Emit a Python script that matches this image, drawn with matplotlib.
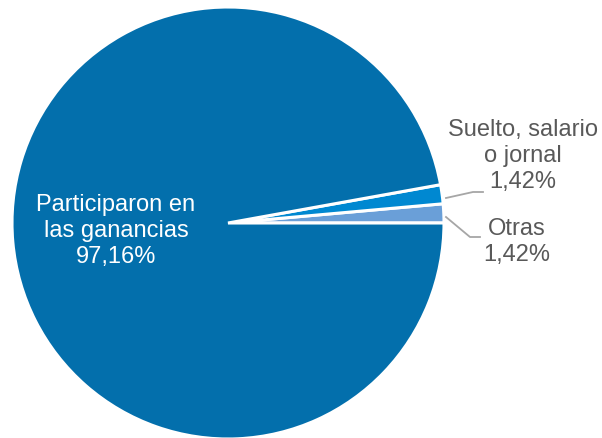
import matplotlib.pyplot as plt

plt.rcParams['font.family'] = ['Liberation Sans', 'DejaVu Sans']

# data, counterclockwise from 3 o'clock
labels = ['Otras', 'Suelto, salario\no jornal', 'Participaron en\nlas ganancias']
values = [1.42, 1.42, 97.16]
pct_text = ['1,42%', '1,42%', '97,16%']
colors = ['#6a9fd8', '#0088d1', '#036fac']

fig = plt.figure(figsize=(6.02, 4.39), dpi=100)
ax = fig.add_axes([0, 0, 1, 1])

cx, cy, r = 228, 215, 216
ax.pie(values, colors=colors, startangle=0, counterclock=True,
       center=(cx, cy), radius=r, frame=True,
       wedgeprops=dict(edgecolor='white', linewidth=2.2))
ax.set_xlim(0, 602)
ax.set_ylim(0, 439)
ax.set_aspect('equal')
ax.axis('off')

fs = 17
ls = 1.22
# main label inside
ax.text(116, 439 - 231, labels[2] + '\n' + pct_text[2], color='white',
        fontsize=fs, ha='center', va='center', linespacing=ls)

# outside labels
grey = '#595959'
ax.text(523, 439 - 156, labels[1] + '\n' + pct_text[1], color=grey,
        fontsize=fs, ha='center', va='center', linespacing=ls)
ax.text(517, 439 - 242, labels[0] + '\n' + pct_text[0], color=grey,
        fontsize=fs, ha='center', va='center', linespacing=ls)

# leader lines
ax.plot([446, 473, 483], [439 - 199, 439 - 193, 439 - 193], color='#a6a6a6', lw=1.3)
ax.plot([446, 470, 480], [439 - 218, 439 - 238, 439 - 238], color='#a6a6a6', lw=1.3)

fig.savefig('out.png', dpi=100)
